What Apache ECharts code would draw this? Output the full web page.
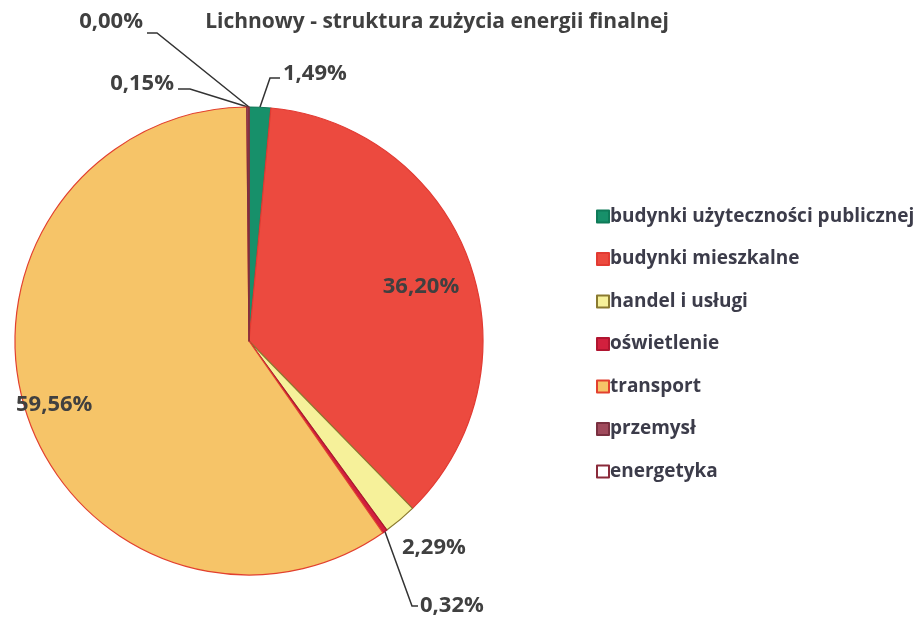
<!DOCTYPE html>
<html>
<head>
<meta charset="utf-8">
<script src="https://cdn.jsdelivr.net/npm/echarts@6/dist/echarts.min.js"></script>
<style>
  html, body { margin: 0; padding: 0; background: #fff; }
  #chart { width: 920px; height: 619px; }
</style>
</head>
<body>
<div id="chart"></div>
<script>
// dane z wykresu (w %)
const categories = ['budynki użyteczności publicznej', 'budynki mieszkalne', 'handel i usługi', 'oświetlenie', 'transport', 'przemysł', 'energetyka']
const shares = [1.49, 36.20, 2.29, 0.32, 59.56, 0.15, 0.00]
const fills = ['#17906a', '#ec4a3f', '#f6f19a', '#d2203e', '#f6c468', '#a04a5c', '#ffffff']
const borders = ['#0f7a58', '#e23a32', '#8a7a30', '#b01530', '#e2402f', '#7a3040', '#8a2a3a']

// polozenie etykiet (x, y, wyrownanie) i punkty lamania linii
const labelSpots = [
  { x: 283, y: 74, align: 'left', bend: [[270, 78], [280, 78]] },
  { x: 421, y: 287, align: 'center' },
  { x: 402, y: 548, align: 'left' },
  { x: 420, y: 606, align: 'left', bend: [[412, 606], [418, 606]] },
  { x: 16, y: 405, align: 'left' },
  { x: 174, y: 84, align: 'right', bend: [[190, 89], [178, 89]] },
  { x: 143, y: 22, align: 'right', bend: [[157, 33], [147, 33]] }
]

const chart = echarts.init(document.getElementById('chart'))
const textColor = '#404040'
const fontFamily = '"Open Sans", Lato, sans-serif'

chart.setOption({
  animation: false,
  title: {
    text: 'Lichnowy - struktura zużycia energii finalnej',
    left: 432,
    top: 7,
    textAlign: 'center',
    textStyle: { fontFamily, fontSize: 21, fontWeight: 'bold', color: textColor }
  },
  legend: {
    orient: 'vertical',
    left: 591,
    top: 202,
    itemWidth: 12,
    itemHeight: 12,
    itemGap: 23.5,
    icon: 'rect',
    data: categories,
    textStyle: { fontFamily, fontSize: 19, fontWeight: 'bold', color: '#3c3c4a', padding: [0, 0, 0, -4] }
  },
  series: [{
    type: 'pie',
    center: [249, 341],
    radius: 234,
    startAngle: 90,
    clockwise: true,
    avoidLabelOverlap: false,
    label: {
      show: true,
      fontFamily,
      fontSize: 22,
      fontWeight: 'bold',
      color: textColor,
      formatter: p => p.value.toFixed(2).replace('.', ',') + '%'
    },
    labelLine: {
      show: true,
      lineStyle: { color: '#333', width: 1.5 }
    },
    labelLayout: params => {
      const s = labelSpots[params.dataIndex]
      const out = { x: s.x, y: s.y, align: s.align, verticalAlign: 'middle' }
      if (s.bend && params.labelLinePoints) {
        const start = params.labelLinePoints[0]
        out.labelLinePoints = [start, s.bend[0], s.bend[1]]
      } else {
        out.labelLinePoints = null
      }
      return out
    },
    data: categories.map((name, i) => ({
      name,
      value: shares[i],
      itemStyle: { color: fills[i], borderColor: borders[i], borderWidth: 1.2 },
      labelLine: { show: !!labelSpots[i].bend }
    }))
  }]
})
</script>
</body>
</html>
